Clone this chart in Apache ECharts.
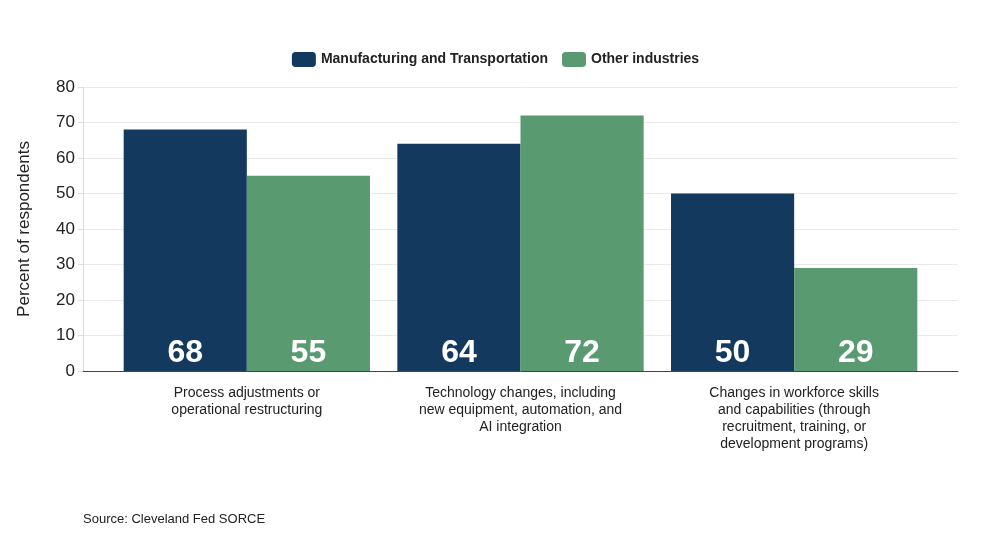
<!DOCTYPE html>
<html><head><meta charset="utf-8">
<script src="https://cdn.jsdelivr.net/npm/echarts@6/dist/echarts.min.js"></script>
<style>html,body{margin:0;background:#fff}#c{width:991px;height:557px}</style>
</head><body><div id="c"></div>
<script>
const categories = ["Process adjustments or\noperational restructuring","Technology changes, including\nnew equipment, automation, and\nAI integration","Changes in workforce skills\nand capabilities (through\nrecruitment, training, or\ndevelopment programs)"];
const manufacturing = [68,64,50];
const other = [55,72,29];
const yTicks = [0,80,10];
const chart = echarts.init(document.getElementById('c'));
const lbl = {show:true,position:'insideBottom',distance:2,color:'#fff',fontSize:32,fontWeight:'bold',fontFamily:'Arial, Liberation Sans'};
chart.setOption({
  textStyle:{fontFamily:'Arial, Liberation Sans'},
  legend:{top:47,left:'center',itemWidth:24,itemHeight:15,itemGap:14,textStyle:{fontSize:14,fontWeight:'bold',color:'#222'},data:['Manufacturing and Transportation','Other industries']},
  grid:[{left:83,right:33,top:87,bottom:186},{left:110,right:60,top:87,bottom:186}],
  xAxis:[
    {gridIndex:0,type:'value',min:0,max:1,axisLine:{show:true,onZero:false,lineStyle:{color:'#444'}},axisLabel:{show:false},axisTick:{show:false},splitLine:{show:false}},
    {gridIndex:1,type:'category',data:categories,axisTick:{show:false},axisLine:{show:false},axisLabel:{color:'#222',fontSize:14,lineHeight:17,margin:14,interval:0}}
  ],
  yAxis:[
    {gridIndex:0,type:'value',min:yTicks[0],max:yTicks[1],interval:yTicks[2],name:'Percent of respondents',nameLocation:'middle',nameGap:50,nameTextStyle:{fontSize:17,color:'#222'},axisLine:{show:true,lineStyle:{color:'#ddd'}},axisLabel:{fontSize:17,color:'#222'},splitLine:{lineStyle:{color:'#eaeaea'}}},
    {gridIndex:1,type:'value',min:yTicks[0],max:yTicks[1],interval:yTicks[2],axisLine:{show:false},axisLabel:{show:false},splitLine:{show:false}}
  ],
  series:[
    {name:'Manufacturing and Transportation',type:'bar',xAxisIndex:1,yAxisIndex:1,data:manufacturing,itemStyle:{color:'#133a5e'},barGap:'0%',barCategoryGap:'10%',label:lbl},
    {name:'Other industries',type:'bar',xAxisIndex:1,yAxisIndex:1,data:other,itemStyle:{color:'#5a9a71'},label:lbl}
  ],
  graphic:[{type:'text',left:83,top:513,style:{text:'Source: Cleveland Fed SORCE',fontSize:13,fill:'#222',fontFamily:'Arial, Liberation Sans'}}]
});
</script></body></html>
